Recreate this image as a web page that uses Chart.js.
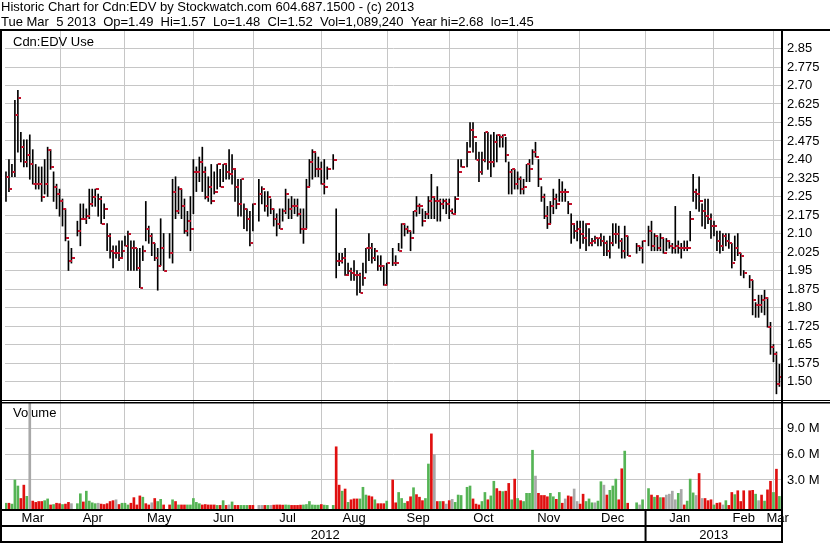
<!DOCTYPE html>
<html>
<head>
<meta charset="utf-8">
<script src="https://cdn.jsdelivr.net/npm/chart.js@4.4.1/dist/chart.umd.min.js"></script>
<style>
  html, body { margin: 0; padding: 0; background: #fff; }
  #wrap { width: 830px; height: 543px; }
</style>
</head>
<body>
<div id="wrap"><canvas id="chart" width="830" height="543"></canvas></div>
<script>
// one slot per weekday, Tue Mar 6 2012 .. Tue Mar 5 2013; null = market holiday
const highs = [
  2.35, 2.40, 2.38, 2.64, 2.68, 2.51, 2.48, 2.48, 2.50, 2.44,
  2.38, 2.37, 2.37, 2.40, 2.45, 2.44, 2.35, 2.30, 2.28, 2.24,
  2.20, 2.07, 2.04, null, 2.15, 2.22, 2.22, 2.20, 2.28, 2.28,
  2.28, 2.26, 2.25, 2.22, 2.14, 2.10, 2.05, 2.05, 2.07, 2.07,
  2.09, 2.11, 2.07, 2.07, 2.04, 2.04, 2.05, 2.23, 2.13, 2.10,
  2.06, 2.04, 2.16, 2.10, null, 2.10, 2.32, 2.33, 2.29, 2.28,
  2.24, 2.19, 2.25, 2.40, 2.37, 2.41, 2.45, 2.37, 2.33, 2.38,
  2.35, 2.38, 2.36, 2.38, 2.38, 2.44, 2.42, 2.36, 2.32, 2.32,
  2.22, 2.20, 2.19, 2.22, null, 2.32, 2.29, 2.27, 2.27, 2.24,
  2.20, 2.18, 2.20, 2.20, 2.28, 2.24, 2.25, 2.24, 2.24, 2.20,
  2.20, 2.32, 2.40, 2.44, 2.43, 2.41, 2.39, 2.40, 2.37, null,
  2.42, 2.20, 2.02, 2.02, 2.04, 1.98, 1.96, 1.99, 1.95, 1.94,
  1.98, 2.04, 2.10, 2.06, 2.04, 2.01, 2.01, 1.97, 1.98, null,
  2.04, 2.01, 2.06, 2.14, 2.14, 2.13, 2.11, 2.19, 2.25, 2.22,
  2.20, 2.19, 2.25, 2.34, 2.25, 2.29, 2.24, 2.24, 2.24, 2.24,
  2.20, 2.25, 2.40, 2.40, null, 2.47, 2.55, 2.55, 2.47, 2.43,
  2.43, 2.51, 2.51, 2.50, 2.51, 2.50, 2.50, 2.50, 2.49, 2.39,
  2.36, 2.36, 2.35, 2.33, 2.32, 2.38, 2.40, 2.44, 2.47, 2.40,
  2.29, 2.26, 2.21, 2.23, 2.28, 2.26, 2.32, 2.31, 2.28, 2.23,
  2.18, 2.14, 2.15, 2.15, 2.15, 2.14, 2.12, 2.08, 2.09, 2.08,
  2.10, 2.09, 2.07, 2.09, 2.14, 2.14, 2.13, 2.08, 2.13, 2.09,
  null, null, 2.06, 2.05, 2.07, null, 2.13, 2.15, 2.10, 2.09,
  2.10, 2.08, 2.08, 2.07, 2.06, 2.21, 2.07, 2.06, 2.07, 2.07,
  2.19, 2.34, 2.28, 2.33, 2.22, 2.24, 2.24, 2.18, 2.15, 2.11,
  2.11, 2.10, 2.10, 2.10, 2.06, 2.09, 2.10, 2.02, 1.95, null,
  1.93, 1.91, 1.82, 1.85, 1.85, 1.87, 1.84, 1.74, 1.65, 1.62, 1.57
];
const lows = [
  2.23, 2.27, 2.33, 2.33, 2.43, 2.39, 2.37, 2.37, 2.32, 2.30,
  2.28, 2.28, 2.23, 2.26, 2.25, 2.36, 2.23, 2.20, 2.17, 2.13,
  2.07, 1.95, 1.98, null, 2.09, 2.05, 2.16, 2.14, 2.16, 2.21,
  2.21, 2.17, 2.14, 2.16, 2.03, 2.00, 1.96, 2.00, 1.99, 2.00,
  2.05, 1.95, 1.95, 1.95, 1.95, 1.88, 1.99, 2.07, 2.06, 2.01,
  1.99, 1.87, 1.97, 1.95, null, 2.00, 1.98, 2.16, 2.18, 2.16,
  2.10, 2.09, 2.03, 2.18, 2.27, 2.31, 2.27, 2.24, 2.23, 2.22,
  2.26, 2.28, 2.29, 2.31, 2.32, 2.32, 2.30, 2.23, 2.17, 2.17,
  2.12, 2.11, 2.05, 2.11, null, 2.15, 2.22, 2.19, 2.17, 2.18,
  2.13, 2.09, 2.12, 2.15, 2.18, 2.16, 2.16, 2.18, 2.17, 2.10,
  2.06, 2.12, 2.29, 2.32, 2.33, 2.33, 2.30, 2.26, 2.32, null,
  2.36, 1.92, 1.97, 1.98, 1.93, 1.93, 1.91, 1.91, 1.85, 1.86,
  1.89, 1.94, 1.99, 1.98, 1.99, 1.95, 1.95, 1.89, 1.89, null,
  1.97, 1.97, 2.03, 2.04, 2.09, 2.10, 2.03, 2.10, 2.17, 2.18,
  2.13, 2.16, 2.16, 2.16, 2.16, 2.15, 2.15, 2.20, 2.18, 2.16,
  2.18, 2.18, 2.25, 2.37, null, 2.37, 2.45, 2.43, 2.40, 2.31,
  2.34, 2.39, 2.36, 2.33, 2.37, 2.39, 2.45, 2.45, 2.39, 2.26,
  2.26, 2.28, 2.28, 2.26, 2.26, 2.31, 2.31, 2.38, 2.41, 2.29,
  2.23, 2.16, 2.12, 2.14, 2.18, 2.20, 2.23, 2.23, 2.23, 2.18,
  2.06, 2.08, 2.07, 2.04, 2.06, 2.03, 2.05, 2.05, 2.06, 2.05,
  2.05, 2.01, 2.01, 2.00, 2.05, 2.06, 2.04, 2.00, 2.00, 2.01,
  null, null, 2.02, 2.03, 1.98, null, 2.05, 2.03, 2.03, 2.03,
  2.03, 2.02, 2.03, 2.04, 2.02, 2.02, 2.02, 2.00, 2.03, 2.03,
  2.07, 2.23, 2.20, 2.19, 2.13, 2.12, 2.14, 2.08, 2.09, 2.03,
  2.02, 2.03, 2.05, 2.04, 1.96, 1.99, 2.01, 1.93, 1.92, null,
  1.88, 1.77, 1.76, 1.76, 1.78, 1.77, 1.72, 1.61, 1.58, 1.45, 1.48
];
const closes = [
  2.33, 2.28, 2.35, 2.58, 2.65, 2.45, 2.39, 2.42, 2.38, 2.30,
  2.30, 2.30, 2.25, 2.30, 2.44, 2.37, 2.29, 2.26, 2.23, 2.20,
  2.08, 1.99, 2.00, null, 2.11, 2.16, 2.16, 2.17, 2.22, 2.25,
  2.28, 2.24, 2.14, 2.20, 2.09, 2.03, 2.02, 2.02, 2.00, 2.03,
  2.05, 2.10, 2.04, 2.04, 1.96, 1.88, 2.03, 2.12, 2.09, 2.06,
  2.00, 1.97, 2.04, 1.95, null, 2.02, 2.27, 2.19, 2.28, 2.21,
  2.11, 2.15, 2.12, 2.35, 2.35, 2.39, 2.35, 2.25, 2.29, 2.23,
  2.27, 2.38, 2.29, 2.38, 2.35, 2.34, 2.36, 2.29, 2.22, 2.32,
  2.20, 2.16, 2.06, 2.22, null, 2.26, 2.28, 2.21, 2.25, 2.20,
  2.16, 2.14, 2.12, 2.19, 2.26, 2.20, 2.21, 2.21, 2.18, 2.12,
  2.12, 2.29, 2.39, 2.43, 2.36, 2.36, 2.30, 2.29, 2.36, null,
  2.40, 1.99, 1.99, 2.00, 1.93, 1.95, 1.94, 1.93, 1.93, 1.86,
  1.92, 2.04, 2.04, 2.00, 2.03, 1.97, 1.97, 1.89, 1.98, null,
  1.98, 1.98, 2.03, 2.14, 2.12, 2.11, 2.08, 2.19, 2.21, 2.21,
  2.15, 2.18, 2.23, 2.25, 2.23, 2.23, 2.22, 2.23, 2.22, 2.19,
  2.18, 2.24, 2.35, 2.37, null, 2.43, 2.52, 2.49, 2.40, 2.35,
  2.40, 2.51, 2.39, 2.39, 2.47, 2.50, 2.49, 2.50, 2.42, 2.35,
  2.36, 2.30, 2.32, 2.28, 2.29, 2.38, 2.36, 2.43, 2.41, 2.32,
  2.25, 2.17, 2.14, 2.21, 2.24, 2.22, 2.27, 2.27, 2.27, 2.22,
  2.14, 2.11, 2.12, 2.10, 2.08, 2.14, 2.06, 2.07, 2.08, 2.08,
  2.07, 2.06, 2.03, 2.06, 2.10, 2.10, 2.07, 2.03, 2.09, 2.01,
  null, null, 2.05, 2.04, 2.07, null, 2.11, 2.05, 2.09, 2.04,
  2.08, 2.02, 2.07, 2.05, 2.04, 2.05, 2.04, 2.04, 2.04, 2.04,
  2.16, 2.27, 2.26, 2.23, 2.19, 2.17, 2.16, 2.13, 2.13, 2.07,
  2.05, 2.09, 2.07, 2.06, 1.98, 2.04, 2.02, 2.01, 1.94, null,
  1.91, 1.83, 1.81, 1.81, 1.83, 1.84, 1.72, 1.64, 1.61, 1.49, 1.52
];
// volume in millions of shares
const volumes = [
  0.3, 0.3, 0.2, 3.0, 2.3, 0.85, 2.4, 1.1, 15, 0.55,
  0.4, 0.5, 0.5, 0.6, 0.8, 0.1, 0.15, 0.3, 0.25, 0.15,
  0.2, 0.4, 0.25, null, 0.25, 1.4, 0.45, 1.7, 0.55, 0.35,
  0.25, 0.3, 0.2, 0.15, 0.25, 0.5, 0.6, 0.7, 0.15, 0.3,
  0.3, 0.1, 0.3, 0.95, 0.1, 1.15, 1.0, 0.25, 0.1, 0.35,
  0.85, 0.5, 0.75, 0.1, null, 0.1, 0.7, 0.5, 0.1, 0.1,
  0.1, 0.1, 0.1, 0.85, 0.4, 0.25, 0.1, 0.15, 0.1, 0.1,
  0.1, 0.05, 0.05, 0.6, 0.05, 0.1, 0.45, 0.05, 0.05, 0.05,
  0.05, 0.05, 0.05, 0.05, null, 0.05, 0.05, 0.05, 0.05, 0.05,
  0.08, 0.1, 0.1, 0.08, 0.1, 0.08, 0.05, 0.05, 0.05, 0.08,
  0.1, 0.15, 0.5, 0.1, 0.08, 0.08, 0.15, 0.08, 0.05, null,
  0.05, 6.85, 2.4, 1.7, 1.95, 0.4, 0.7, 0.8, 0.8, 0.8,
  2.15, 1.25, 1.15, 1.05, 0.7, 0.25, 0.25, 0.25, 0.55, null,
  3.0, 0.35, 1.55, 0.85, 0.3, 0.5, 1.05, 2.1, 1.3, 1.0,
  0.6, 0.85, 4.85, 8.35, 5.95, 0.5, 0.5, 0.5, 0.2, 0.6,
  0.75, 0.4, 1.25, 1.2, null, 2.15, 2.3, 0.8, 0.2, 0.1,
  0.5, 1.55, 0.7, 1.15, 2.85, 2.0, 1.7, 1.65, 1.7, 2.6,
  0.7, 3.1, 0.85, 0.6, 0.5, 1.45, 1.45, 6.45, 3.45, 1.45,
  1.2, 1.2, 1.05, 1.45, 1.05, 0.75, 1.55, 0.3, 0.8, 1.15,
  1.05, 1.95, 0.5, 0.2, 1.35, 0.5, 0.8, 0.35, 0.35, 0.55,
  2.8, 2.4, 1.25, 1.8, 2.3, 3.1, 0.7, 4.3, 6.35, 0.3,
  null, null, 0.35, 0.1, 0.7, null, 2.0, 1.25, 1.0, 1.2,
  0.95, 0.95, 1.25, 1.35, 1.7, 0.7, 1.45, 1.9, 0.1, 0.55,
  3.1, 1.5, 1.2, 3.75, 0.85, 0.85, 0.6, 0.7, 0.1, 0.3,
  0.35, 0.1, 0.6, 0.05, 1.55, 1.3, 1.75, 0.5, 1.75, null,
  1.75, 1.8, 1.35, 0.6, 1.25, 0.55, 1.85, 2.85, 1.55, 4.25, 1.09
];
// u = up day, d = down day, n = unchanged, - = holiday
const volDir = (
  "uduuuddund" + "ddduududdu" + "ddn-uuduuu" + "undddddndu" + "uudddduddn" +
  "duud-dudud" + "duuuuudddd" + "dududnuddu" + "uudd-nndun" + "dddduudddd" +
  "uuuuuuduu-" + "uddududddu" + "uuddudddu-" + "dduuuddudd" + "duudndudnd" +
  "nuuu-uuddd" + "uuduuddudd" + "ududuuuund" + "ddduududnd" + "dnndduuunu" +
  "unduuuddud" + "--unu-udud" + "udnnnnundu" + "uundndddud" + "dnudduddd-" +
  "ddunduddudu"
).split("");

// axis positions in weekday slots
const monthStarts = [18.35, 40, 63, 83.3, 106, 128.1, 149, 172, 192.9, 215, 238, 258];
const monthNames = ["Mar", "Apr", "May", "Jun", "Jul", "Aug", "Sep", "Oct", "Nov", "Dec", "Jan", "Feb", "Mar"];
const yearStarts = [215];
const yearNames = ["2012", "2013"];
const priceTicks = [1.50, 1.575, 1.65, 1.725, 1.80, 1.875, 1.95, 2.025, 2.10, 2.175,
  2.25, 2.325, 2.40, 2.475, 2.55, 2.625, 2.70, 2.775, 2.85];
const volTicks = [3, 6, 9];

const headerLines = [
  "Historic Chart for Cdn:EDV by Stockwatch.com 604.687.1500 - (c) 2013",
  "Tue Mar  5 2013  Op=1.49  Hi=1.57  Lo=1.48  Cl=1.52  Vol=1,089,240  Year hi=2.68  lo=1.45"
];

const FONT = "'Liberation Sans', Arial, sans-serif";
const GRID = "#c6c6c6";
const X_MIN = -0.33, X_MAX = 260.87;
const VOL_MIN = -0.37, VOL_MAX = 12.28;
const dirColor = { u: "#55b455", d: "#e01010", n: "#a8a8a8" };

const priceBars = [], closeMarks = [], volBars = [], volColors = [];
highs.forEach((h, i) => {
  if (h === null) return;
  priceBars.push({ x: i, y: [lows[i], h] });
  closeMarks.push({ x: i, y: closes[i] });
  volBars.push({ x: i, y: volumes[i] });
  volColors.push(dirColor[volDir[i]]);
});

// close tick: small red dash on the right of the bar
const tick = document.createElement("canvas");
tick.width = 7; tick.height = 2;
const tctx = tick.getContext("2d");
tctx.fillStyle = "#c3102a";
tctx.fillRect(4, 0, 3, 2);

const bounds = [X_MIN, ...monthStarts, X_MAX];
const monthCenters = monthNames.map((_, i) => (bounds[i] + bounds[i + 1]) / 2);
const ybounds = [X_MIN, ...yearStarts, X_MAX];
const yearCenters = yearNames.map((_, i) => (ybounds[i] + ybounds[i + 1]) / 2);

function fmtPrice(v) {
  const s = v.toFixed(3);
  return s.endsWith("0") ? v.toFixed(2) : s;
}

const clipVolume = {
  id: "clipVolume",
  beforeDatasetDraw(chart, args) {
    if (args.index !== 2) return;
    const a = chart.chartArea, yv = chart.scales.yv;
    chart.ctx.save();
    chart.ctx.beginPath();
    chart.ctx.rect(a.left, yv.top + 3, a.right - a.left, yv.bottom - yv.top - 3);
    chart.ctx.clip();
  },
  afterDatasetDraw(chart, args) {
    if (args.index === 2) chart.ctx.restore();
  }
};

const frame = {
  id: "frame",
  beforeDatasetsDraw(chart) {
    const { ctx, chartArea: a, scales: { y, yv } } = chart;
    ctx.save();
    ctx.fillStyle = "#000";
    ctx.font = "13px " + FONT;
    ctx.textBaseline = "middle";
    ctx.fillText("Cdn:EDV Use", a.left + 8, y.top + 12);
    ctx.fillText("Volume", a.left + 8, yv.top + 13);
    ctx.restore();
  },
  afterDraw(chart) {
    const { ctx, chartArea: a, scales: { x, y } } = chart;
    const W = chart.width, H = chart.height;
    ctx.save();
    ctx.fillStyle = "#000";
    ctx.fillRect(0, a.top - 1, W, 2);
    ctx.fillRect(0, a.top, 2, H - a.top);
    ctx.fillRect(a.right - 1, a.top, 2, H - a.top);
    ctx.fillRect(0, y.bottom, W, 1);
    ctx.fillRect(0, y.bottom + 2, W, 1.5);
    ctx.fillRect(0, a.bottom, a.right, 2);
    ctx.fillRect(0, x.bottom - 1, a.right, 2);
    ctx.fillRect(0, H - 2, a.right, 2);
    yearStarts.forEach(v => {
      const px = x.getPixelForValue(v);
      ctx.fillRect(px - 1, a.bottom, 2, H - a.bottom);
    });
    ctx.restore();
  }
};

const font13 = { family: FONT, size: 13 };

new Chart(document.getElementById("chart"), {
  type: "bar",
  data: {
    datasets: [
      { type: "bar", data: priceBars, yAxisID: "y", backgroundColor: "#000",
        barThickness: 1, grouped: false, order: 2 },
      { type: "line", data: closeMarks, yAxisID: "y", showLine: false,
        pointStyle: tick, pointRadius: 3, order: 1 },
      { type: "bar", data: volBars, yAxisID: "yv", backgroundColor: volColors,
        barThickness: 2, grouped: false, base: VOL_MIN, order: 3 }
    ]
  },
  options: {
    responsive: false,
    animation: false,
    events: [],
    layout: { padding: { left: 1, top: 0, right: 0, bottom: 0 } },
    plugins: {
      legend: { display: false },
      tooltip: { enabled: false },
      title: {
        display: true, text: headerLines, align: "start", color: "#000",
        font: { family: FONT, size: 13, weight: "normal", lineHeight: "15px" },
        padding: { top: 0, bottom: 0 }
      }
    },
    scales: {
      x: {
        type: "linear", position: "bottom", min: X_MIN, max: X_MAX, weight: 0, offset: false,
        afterBuildTicks: s => { s.ticks = [...monthStarts, ...monthCenters].map(v => ({ value: v })); },
        afterFit: s => { s.height = 17; },
        ticks: {
          autoSkip: false, maxRotation: 0, padding: 2, font: font13, color: "#000",
          callback: (v, i) => i >= monthStarts.length ? monthNames[i - monthStarts.length] : ""
        },
        grid: {
          drawTicks: false, offset: false,
          color: c => (c.index < monthStarts.length ? GRID : "rgba(0,0,0,0)")
        },
        border: { display: false }
      },
      x2: {
        type: "linear", position: "bottom", min: X_MIN, max: X_MAX, weight: 1, offset: false,
        afterBuildTicks: s => { s.ticks = yearCenters.map(v => ({ value: v })); },
        afterFit: s => { s.height = 17; },
        ticks: { autoSkip: false, maxRotation: 0, padding: 2, font: font13, color: "#000",
          callback: (v, i) => yearNames[i] },
        grid: { display: false, drawTicks: false },
        border: { display: false }
      },
      y: {
        type: "linear", position: "right", stack: "panels", stackWeight: 370,
        min: 1.425, max: 2.925,
        afterBuildTicks: s => { s.ticks = priceTicks.map(v => ({ value: v })); },
        afterFit: s => { s.width = 48; },
        ticks: { autoSkip: false, font: font13, color: "#000", padding: 5, callback: v => fmtPrice(v) },
        grid: { color: GRID, drawTicks: false },
        border: { display: false }
      },
      yv: {
        type: "linear", position: "right", stack: "panels", stackWeight: 109,
        min: VOL_MIN, max: VOL_MAX,
        afterBuildTicks: s => { s.ticks = volTicks.map(v => ({ value: v })); },
        afterFit: s => { s.width = 48; },
        ticks: { autoSkip: false, font: font13, color: "#000", padding: 5, callback: v => v.toFixed(1) + " M" },
        grid: { color: GRID, drawTicks: false },
        border: { display: false }
      }
    }
  },
  plugins: [clipVolume, frame]
});
</script>
</body>
</html>
